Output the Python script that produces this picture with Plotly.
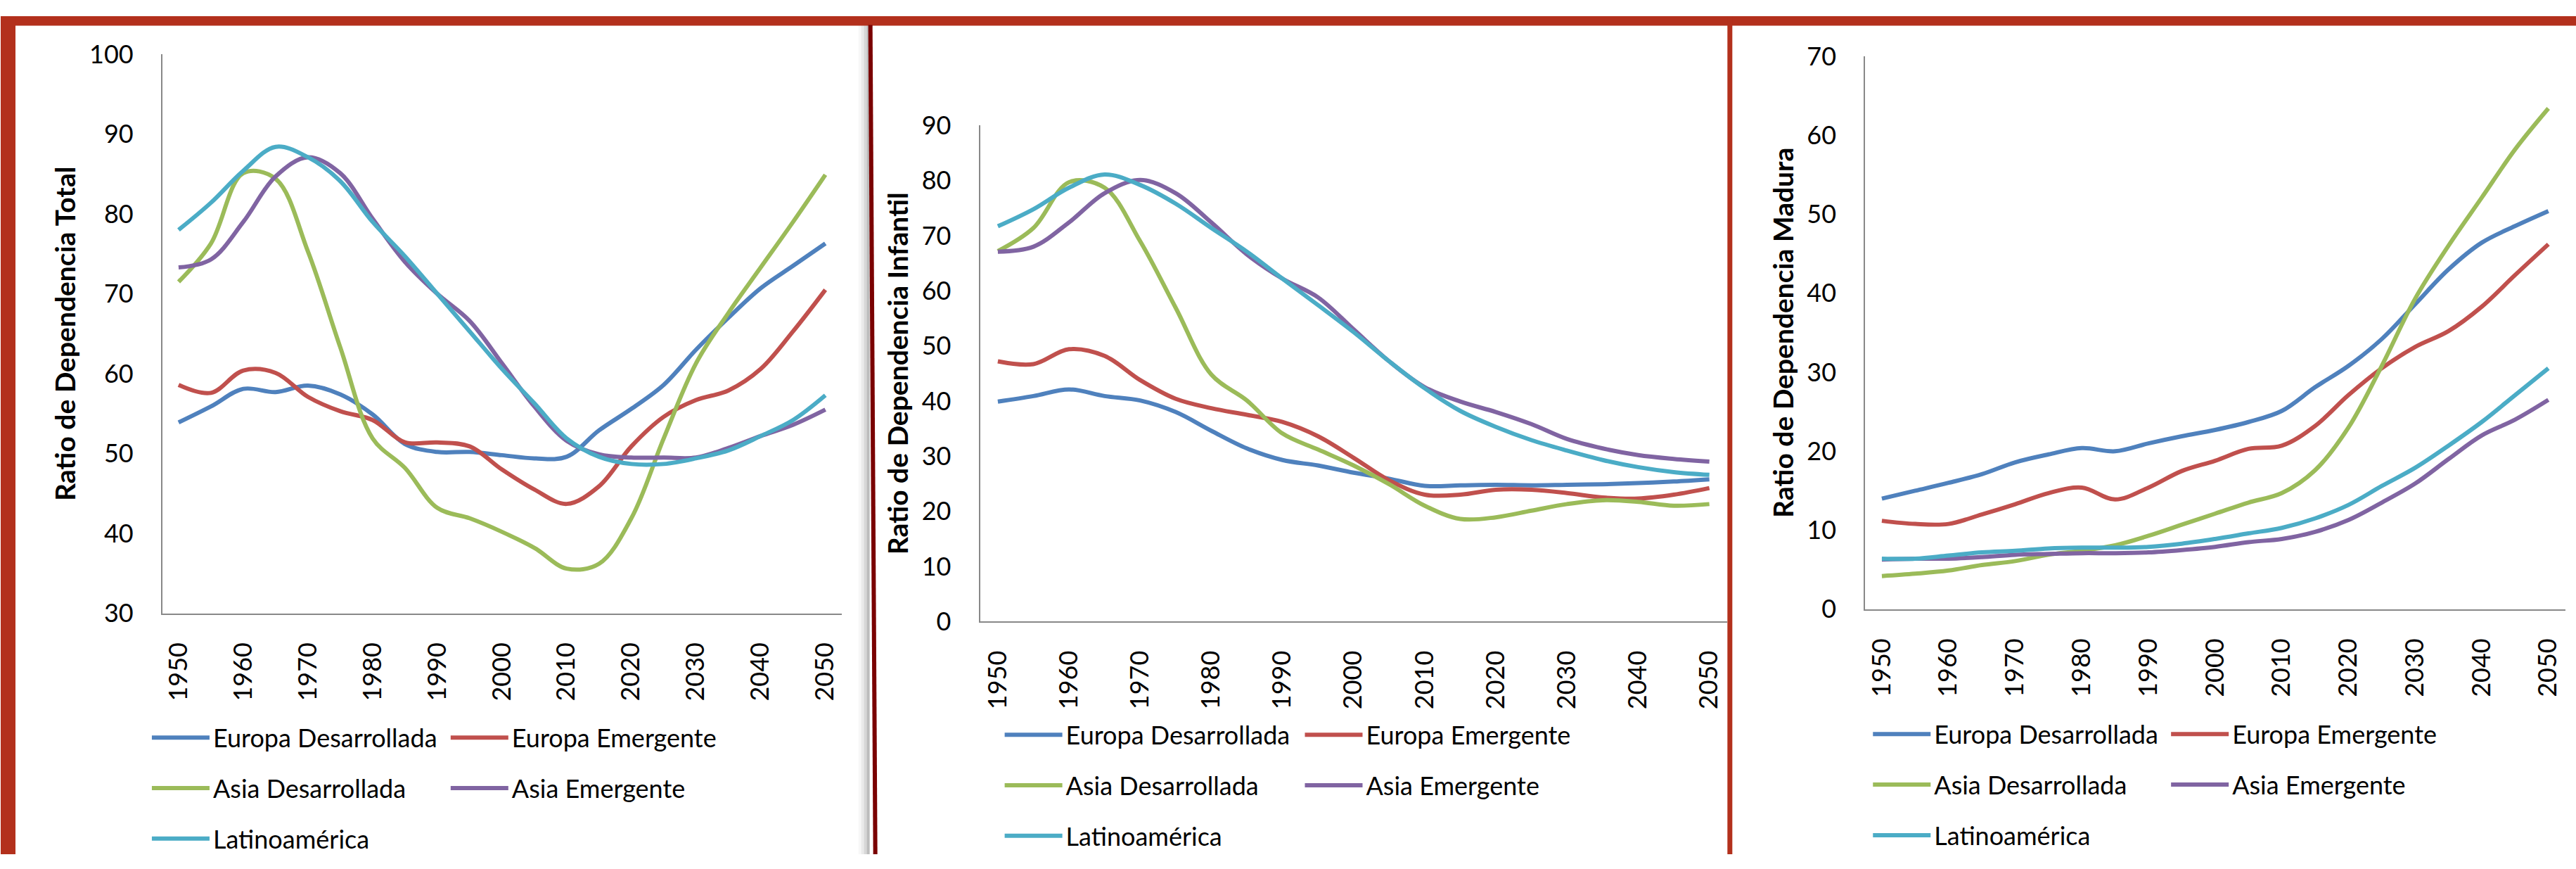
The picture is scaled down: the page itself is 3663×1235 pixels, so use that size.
import plotly.graph_objects as go

W, H = 3663, 1235

years = [1950, 1955, 1960, 1965, 1970, 1975, 1980, 1985, 1990, 1995, 2000,
         2005, 2010, 2015, 2020, 2025, 2030, 2035, 2040, 2045, 2050]
tick_years = [1950, 1960, 1970, 1980, 1990, 2000, 2010, 2020, 2030, 2040, 2050]
tick_labels = [str(y) for y in tick_years]

series_names = ["Europa Desarrollada", "Europa Emergente", "Asia Desarrollada",
                "Asia Emergente", "Latinoamérica"]
series_colors = ["#4F81BD", "#C0504D", "#9BBB59", "#8064A2", "#4BACC6"]

# Ratio de Dependencia Total
total_europa_des = [53.9, 55.9, 58.1, 57.7, 58.5, 57.4, 54.9, 51.2, 50.2, 50.2, 49.8,
                    49.4, 49.6, 52.9, 55.6, 58.6, 63.0, 67.0, 70.7, 73.5, 76.3]
total_europa_eme = [58.6, 57.6, 60.4, 60.1, 57.1, 55.3, 54.2, 51.4, 51.4, 50.9, 48.0,
                    45.5, 43.7, 45.9, 50.9, 54.6, 56.7, 57.9, 60.6, 65.3, 70.5]
total_asia_des = [71.5, 76.3, 85.1, 84.4, 75.3, 63.3, 51.9, 48.2, 43.2, 41.9, 40.2,
                  38.2, 35.6, 36.2, 41.9, 51.9, 61.3, 67.6, 73.3, 79.0, 84.9]
total_asia_eme = [73.3, 74.3, 79.0, 84.7, 87.1, 85.1, 79.4, 74.0, 70.0, 66.6, 61.3,
                  55.9, 51.6, 49.9, 49.5, 49.5, 49.5, 50.7, 52.2, 53.6, 55.5]
total_latam = [78.0, 81.4, 85.4, 88.4, 87.1, 84.1, 79.0, 74.7, 70.0, 65.3, 60.6,
               56.3, 51.9, 49.6, 48.7, 48.7, 49.4, 50.4, 52.2, 54.2, 57.3]

# Ratio de Dependencia Infantil
inf_europa_des = [39.9, 40.9, 42.1, 40.9, 40.1, 38.0, 34.6, 31.4, 29.3, 28.3, 27.0,
                  25.9, 24.6, 24.7, 24.8, 24.7, 24.8, 24.9, 25.1, 25.4, 25.8]
inf_europa_eme = [47.2, 46.7, 49.4, 48.2, 43.8, 40.4, 38.7, 37.5, 36.2, 33.6, 29.7,
                  25.6, 23.0, 23.0, 23.9, 23.9, 23.3, 22.5, 22.3, 23.0, 24.2]
inf_asia_des = [67.2, 71.4, 79.7, 78.7, 69.0, 56.9, 44.8, 40.1, 34.1, 31.2, 28.3,
                24.9, 21.0, 18.6, 18.9, 20.1, 21.3, 22.0, 21.7, 21.0, 21.3]
inf_asia_eme = [67.1, 68.0, 72.4, 77.7, 80.1, 77.7, 72.4, 66.6, 62.2, 58.8, 53.0,
                47.2, 42.5, 39.9, 38.0, 35.8, 33.1, 31.4, 30.2, 29.5, 29.0]
inf_latam = [71.7, 74.8, 78.7, 81.1, 79.2, 75.8, 71.4, 67.1, 62.2, 57.4, 52.5,
             47.2, 42.3, 38.2, 35.3, 32.9, 31.0, 29.3, 28.0, 27.1, 26.6]

# Ratio de Dependencia Madura
mad_europa_des = [14.0, 15.0, 16.0, 17.1, 18.6, 19.6, 20.4, 20.0, 21.0, 21.9, 22.7,
                  23.7, 25.1, 28.1, 30.8, 34.2, 38.6, 43.0, 46.4, 48.5, 50.4]
mad_europa_eme = [11.2, 10.8, 10.8, 12.0, 13.3, 14.7, 15.4, 13.9, 15.4, 17.5, 18.8,
                  20.3, 20.7, 23.2, 27.1, 30.5, 33.2, 35.2, 38.3, 42.3, 46.2]
mad_asia_des = [4.2, 4.5, 4.9, 5.6, 6.1, 6.9, 7.4, 8.1, 9.3, 10.7, 12.1,
                13.5, 14.7, 17.6, 23.0, 30.8, 39.3, 46.0, 52.1, 58.2, 63.4]
mad_asia_eme = [6.3, 6.4, 6.4, 6.6, 6.9, 7.0, 7.1, 7.1, 7.2, 7.5, 7.9,
                8.5, 8.9, 9.8, 11.3, 13.5, 15.9, 19.0, 22.0, 24.0, 26.5]
mad_latam = [6.4, 6.4, 6.8, 7.2, 7.4, 7.7, 7.8, 7.8, 7.9, 8.3, 8.9,
             9.6, 10.3, 11.5, 13.2, 15.6, 17.9, 20.7, 23.7, 27.1, 30.5]

panel_titles = ["Ratio de Dependencia Total", "Ratio de Dependencia Infantil",
                "Ratio de Dependencia Madura"]
panel_data = [
    [total_europa_des, total_europa_eme, total_asia_des, total_asia_eme, total_latam],
    [inf_europa_des, inf_europa_eme, inf_asia_des, inf_asia_eme, inf_latam],
    [mad_europa_des, mad_europa_eme, mad_asia_des, mad_asia_eme, mad_latam],
]
y_ranges = [[30, 100], [0, 90], [0, 70]]
y_dticks = [10, 10, 10]

# ---- layout geometry (pixels) ----
panel_x = [(230, 1196, 46.0), (1393, 2456, 50.6), (2652, 3648, 47.4)]
panel_y = [(880, 56), (892, 161), (874, 59)]
legend_cols = [(215, 640), (1428, 1855), (2663, 3087)]
legend_row1 = [1047, 1043, 1042]

FONT = "Lato, 'Open Sans', sans-serif"
TICK_SIZE = 36
LEG_SIZE = 36
TITLE_SIZE = 39

def fx(px):
    return px / W

def fy(py):
    return 1 - py / H

fig = go.Figure()

for p in range(3):
    xa = "x" if p == 0 else f"x{p+1}"
    ya = "y" if p == 0 else f"y{p+1}"
    for s in range(5):
        col = 0 if s in (0, 2, 4) else 1
        lg_index = 2 * p + col + 1
        lg = "legend" if lg_index == 1 else f"legend{lg_index}"
        fig.add_trace(go.Scatter(
            x=years, y=panel_data[p][s], name=series_names[s],
            mode="lines", line=dict(color=series_colors[s], width=6,
                                    shape="spline", smoothing=1.0),
            xaxis=xa, yaxis=ya, legend=lg, legendgroup=f"g{p}{s}",
            showlegend=True,
        ))

layout = dict(
    width=W, height=H,
    margin=dict(l=0, r=0, t=0, b=0, pad=0),
    paper_bgcolor="white", plot_bgcolor="rgba(0,0,0,0)",
    font=dict(family=FONT, size=TICK_SIZE, color="#000000"),
    showlegend=True,
)

for p in range(3):
    x0, x1, cw = panel_x[p]
    xstart = 1950 - 2.5
    xend = xstart + (x1 - x0) / cw * 5
    yb, yt = panel_y[p]
    xkey = "xaxis" if p == 0 else f"xaxis{p+1}"
    ykey = "yaxis" if p == 0 else f"yaxis{p+1}"
    anchor_x = "y" if p == 0 else f"y{p+1}"
    anchor_y = "x" if p == 0 else f"x{p+1}"
    layout[xkey] = dict(
        domain=[fx(x0), fx(x1)], range=[xstart, xend], anchor=anchor_x,
        tickmode="array", tickvals=tick_years, ticktext=tick_labels,
        tickangle=-90, ticks="outside", ticklen=25, tickcolor="rgba(0,0,0,0)",
        showline=True, linecolor="#888888", linewidth=2,
        showgrid=False, zeroline=False, fixedrange=True,
        tickfont=dict(family=FONT, size=TICK_SIZE, color="#000000"),
    )
    layout[ykey] = dict(
        domain=[fy(yb), fy(yt)], range=y_ranges[p], anchor=anchor_y,
        dtick=y_dticks[p], tick0=0,
        ticks="outside", ticklen=32, tickcolor="rgba(0,0,0,0)",
        showline=True, linecolor="#888888", linewidth=2,
        showgrid=False, zeroline=False, fixedrange=True,
        tickfont=dict(family=FONT, size=TICK_SIZE, color="#000000"),
        title=dict(text=panel_titles[p], standoff=7,
                   font=dict(family=FONT, size=TITLE_SIZE, color="#000000", weight="bold")),
    )
    for c in range(2):
        lg_index = 2 * p + c + 1
        lkey = "legend" if lg_index == 1 else f"legend{lg_index}"
        layout[lkey] = dict(
            x=fx(legend_cols[p][c] - 5), y=fy(legend_row1[p] - 15),
            xanchor="left", yanchor="top", orientation="v",
            bgcolor="rgba(0,0,0,0)", borderwidth=0,
            itemwidth=82, traceorder="grouped", tracegroupgap=22,
            font=dict(family=FONT, size=LEG_SIZE, color="#000000"),
            itemclick=False, itemdoubleclick=False,
        )

RED = "#B3301C"
DARK = "#7A0000"
shapes = []
for i, a in enumerate([0.03, 0.05, 0.08, 0.12]):
    shapes.append(dict(type="rect", xref="paper", yref="paper",
                       x0=fx(1220 + i * 4), x1=fx(1236), y0=0, y1=fy(13),
                       fillcolor=f"rgba(0,0,0,{a})", line=dict(width=0), layer="above"))
shapes += [
    dict(type="rect", xref="paper", yref="paper", x0=0, x1=1, y0=fy(14), y1=1,
         fillcolor=RED, line=dict(width=0), layer="above"),
    dict(type="rect", xref="paper", yref="paper", x0=0, x1=fx(21), y0=0, y1=1,
         fillcolor=RED, line=dict(width=0), layer="above"),
    dict(type="line", xref="paper", yref="paper", x0=fx(1237), x1=fx(1244),
         y0=fy(13), y1=0, line=dict(color=DARK, width=6), layer="above"),
    dict(type="rect", xref="paper", yref="paper", x0=fx(2456), x1=fx(2463), y0=0, y1=1,
         fillcolor=RED, line=dict(width=0), layer="above"),
]
layout["shapes"] = shapes

fig.update_layout(**layout)

fig.write_html("out.html", include_plotlyjs=True, full_html=True,
               config={"displayModeBar": False, "staticPlot": True},
               post_script="document.body.style.margin='0';document.body.style.overflow='hidden';")
